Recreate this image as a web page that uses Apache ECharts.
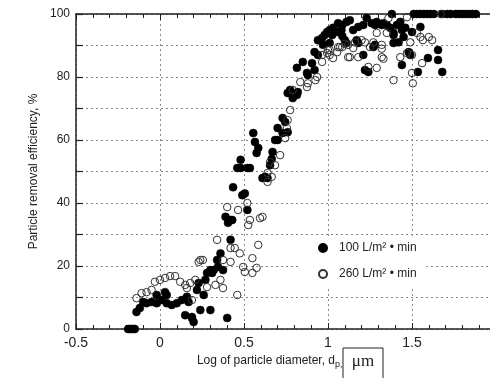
<!DOCTYPE html>
<html>
<head>
<meta charset="utf-8">
<script src="https://cdn.jsdelivr.net/npm/echarts@6/dist/echarts.min.js"></script>
<style>html,body{margin:0;padding:0;background:#fff;}#c{width:490px;height:378px;}</style>
</head>
<body>
<div id="c"></div>
<script>
const seriesNames = ['100 L/m\u00B2 \u2022 min', '260 L/m\u00B2 \u2022 min'];
const xTicks = [-0.5, 0, 0.5, 1, 1.5];
const yTicks = [0, 20, 40, 60, 80, 100];

const flow100 = [
[-0.19,0],[-0.18,0],[-0.17,0],[-0.16,0],[-0.15,0],
[-0.14,5.4],[-0.12,6.7],[-0.10,8.6],[-0.08,8.2],[-0.05,8.6],[-0.02,8.2],[-0.02,10.8],[0.01,9.2],[0.03,11.7],[0.04,10.8],[0.04,8.2],[0.07,7.6],[0.10,8.2],[0.13,9.2],[0.15,4.4],[0.16,10.2],[0.17,8.6],[0.19,3.5],[0.19,3.8],[0.20,2.2],[0.22,12.4],[0.23,14.6],[0.24,6.0],[0.26,10.8],[0.27,15.6],[0.28,17.8],[0.30,18.7],[0.30,6.0],[0.31,17.8],[0.32,18.7],[0.34,21.9],[0.345,19.7],[0.36,24.0],[0.375,18.7],[0.40,3.5],[0.39,35.6],[0.405,33.7],[0.42,34.6],[0.42,28.3],[0.43,34.6],[0.435,45.0],[0.46,51.1],[0.48,51.1],[0.48,53.7],[0.49,42.5],[0.505,43],[0.52,37.8],[0.52,51.1],[0.535,51.1],[0.555,62.2],[0.565,59.4],[0.575,55.9],[0.585,57.5],[0.61,47.9],[0.625,48.3],[0.64,47.9],[0.655,52],[0.665,54],[0.67,56.2],[0.685,60],[0.70,60],[0.70,63.8],[0.73,62.2],[0.73,67],[0.745,65.7],[0.76,62.5],[0.76,74.9],[0.775,75.9],[0.79,73.3],[0.815,74.3],[0.82,75.2],[0.815,82.9],[0.85,84.8],[0.875,81.3],[0.88,80.6],[0.905,84.4],[0.92,82.2],[0.92,87.9],[0.94,87],[0.94,91.7],[0.965,92.4],[0.97,90.2],[0.98,93.3],[0.995,94.3],[1.01,94.9],[1.01,90.8],[1.025,93.3],[1.03,95.6],[1.055,94.3],[1.06,97.1],[1.08,94.9],[1.085,93],[1.085,96.5],[1.10,91.7],[1.11,90.8],[1.11,97.5],[1.13,98],[1.15,94.9],[1.17,91.7],[1.18,95.9],[1.18,90.8],[1.21,96.5],[1.21,87],[1.22,82.2],[1.24,81.6],[1.23,98.7],[1.26,97.1],[1.27,89.5],[1.28,96.5],[1.28,90.2],[1.29,97.5],[1.32,96.5],[1.33,97.1],[1.35,96.5],[1.37,95.6],[1.38,100],[1.39,94],[1.39,90.8],[1.39,93.3],[1.41,96.5],[1.42,91],[1.43,97.5],[1.44,94.9],[1.44,83.8],[1.45,92.7],[1.46,95.6],[1.48,87.9],[1.49,87],[1.50,94.3],[1.51,100],[1.53,100],[1.535,81.6],[1.55,95.9],[1.55,100],[1.57,100],[1.59,100],[1.595,86],[1.61,100],[1.63,100],[1.655,88.6],[1.655,85.4],[1.68,81.6],[1.68,100],[1.71,100],[1.73,100],[1.76,100],[1.78,100],[1.80,100],[1.82,100],[1.84,100],[1.86,100],[1.88,100]
];

const flow260 = [
[-0.14,9.8],[-0.11,11.4],[-0.08,11.7],[-0.05,12.4],[-0.03,15],[0,15.6],[0.03,16.2],[0.06,16.8],[0.09,16.8],[0.12,15],[0.15,14],[0.16,13],[0.18,14.6],[0.19,9.2],[0.21,15.6],[0.23,21.3],[0.24,21.9],[0.255,21.9],[0.28,13.3],[0.33,14],[0.34,28.3],[0.36,15.6],[0.375,21.9],[0.375,13],[0.40,38.7],[0.42,25.7],[0.42,21.3],[0.445,25.7],[0.46,10.8],[0.465,37.8],[0.475,24],[0.495,19.7],[0.505,18.1],[0.52,40],[0.525,33],[0.535,34.6],[0.55,22.5],[0.55,17.8],[0.575,19.4],[0.585,26.7],[0.595,35.2],[0.61,35.6],[0.64,49.5],[0.64,46.7],[0.655,53],[0.665,48.3],[0.685,52],[0.715,55.2],[0.745,60.6],[0.755,63.8],[0.76,66.3],[0.775,69.5],[0.79,75.9],[0.835,78.4],[0.875,76.8],[0.88,78],[0.935,80],[0.925,79],[0.965,84.8],[0.965,87],[0.995,87.6],[1.0,88.5],[1.01,87],[1.01,88.6],[1.03,86],[1.055,87.9],[1.06,89.5],[1.07,89.5],[1.085,89.5],[1.10,90.5],[1.12,90.2],[1.12,86.3],[1.13,86.3],[1.15,89.2],[1.16,91],[1.18,86.3],[1.20,91.7],[1.22,91],[1.24,83.2],[1.25,89.5],[1.27,91],[1.29,94],[1.29,82.9],[1.32,90.2],[1.32,89],[1.32,86.3],[1.33,85.8],[1.35,94],[1.36,98.7],[1.39,79],[1.43,86.3],[1.47,87.6],[1.47,99],[1.49,91],[1.50,81.3],[1.505,78],[1.50,87],[1.53,94],[1.55,92.7],[1.56,84.4],[1.565,91.7],[1.60,92.7],[1.62,91.7],[1.67,100]
];

const xTitle = 'Log of particle diameter, d';
const xTitleSub = 'p,';
const xTitleUnit = '\u03BCm';

const FONT = 'Liberation Sans, Arial, sans-serif';
const chart = echarts.init(document.getElementById('c'), null, {renderer: 'canvas'});
const dotted = {show: true, lineStyle: {color: '#888', width: 1, type: [2, 3]}};
const xCommon = {
  type: 'value', min: -0.5, max: 2, interval: 0.5,
  axisLine: {show: true, onZero: false, lineStyle: {color: '#222', width: 1.5}},
  axisTick: {show: true, inside: true, length: 6, lineStyle: {color: '#222', width: 1}},
  minorTick: {show: true, splitNumber: 5, length: 4, lineStyle: {color: '#222', width: 1}}
};
chart.setOption({
  animation: false,
  backgroundColor: '#fff',
  textStyle: {fontFamily: FONT},
  grid: {left: 76, top: 14, width: 420, height: 315, containLabel: false, outerBoundsMode: 'none'},
  legend: {
    orient: 'vertical', left: 300, top: 236,
    padding: [6, 10, 6, 18], itemGap: 14,
    itemWidth: 22, itemHeight: 8,
    backgroundColor: '#fff',
    textStyle: {fontFamily: FONT, fontSize: 12, color: '#222'},
    data: [{name: seriesNames[0], icon: 'circle'}, {name: seriesNames[1], icon: 'circle'}]
  },
  graphic: [
    {type: 'text', x: 335, y: 361, z: 10,
     style: {text: xTitle, fontSize: 12, fontFamily: FONT, fill: '#222', align: 'right', verticalAlign: 'middle'}},
    {type: 'text', x: 335, y: 365, z: 10,
     style: {text: xTitleSub, fontSize: 9, fontFamily: FONT, fill: '#222', align: 'left', verticalAlign: 'middle'}},
    {type: 'rect', x: 343, y: 348, z: 10,
     shape: {width: 40, height: 40},
     style: {fill: '#fff', stroke: '#222', lineWidth: 1}},
    {type: 'text', x: 363, y: 362, z: 11,
     style: {text: xTitleUnit, fontSize: 17, fontFamily: 'Liberation Serif, DejaVu Serif, serif', fill: '#222', align: 'center', verticalAlign: 'middle'}}
  ],
  xAxis: [
    Object.assign({}, xCommon, {
      position: 'bottom',
      axisLabel: {show: true, margin: 7, fontSize: 14, color: '#222', fontFamily: FONT,
        formatter: v => xTicks.indexOf(v) >= 0 ? String(v) : ''},
      splitLine: dotted
    }),
    Object.assign({}, xCommon, {
      position: 'top',
      axisLabel: {show: false},
      splitLine: {show: false}
    })
  ],
  yAxis: {
    type: 'value', min: 0, max: 100, interval: 10,
    axisLine: {show: true, onZero: false, lineStyle: {color: '#222', width: 1.5}},
    axisTick: {show: true, inside: true, length: 7, lineStyle: {color: '#222', width: 1.2}},
    axisLabel: {margin: 6, fontSize: 12, color: '#222', fontFamily: FONT,
      formatter: v => yTicks.indexOf(v) >= 0 ? String(v) : ''},
    splitLine: dotted,
    name: 'Particle removal efficiency, %',
    nameLocation: 'middle', nameGap: 36, nameMoveOverlap: false,
    nameTextStyle: {fontSize: 12, color: '#222', fontFamily: FONT}
  },
  series: [
    {
      name: seriesNames[0], type: 'scatter', xAxisIndex: 0, data: flow100,
      symbol: 'circle', symbolSize: 8, clip: false,
      itemStyle: {color: '#000', borderColor: '#000', borderWidth: 0.5, opacity: 1}
    },
    {
      name: seriesNames[1], type: 'scatter', xAxisIndex: 0, data: flow260,
      symbol: 'circle', symbolSize: 7.5, clip: false,
      itemStyle: {color: 'rgba(255,255,255,0)', borderColor: '#333', borderWidth: 1, opacity: 1}
    }
  ]
});
</script>
</body>
</html>
